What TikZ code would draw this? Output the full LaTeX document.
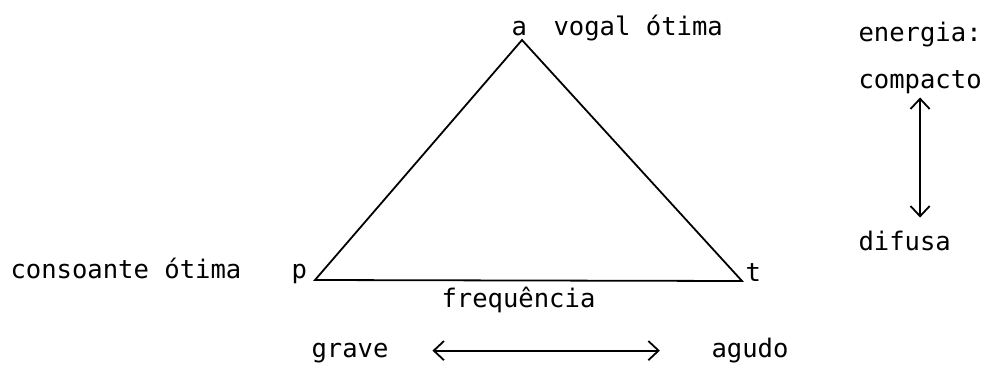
\documentclass[tikz,border=0pt]{standalone}
\usepackage{fontspec}
\setmonofont{DejaVu Sans Mono}
\usetikzlibrary{arrows.meta}

\begin{document}
\begin{tikzpicture}[x=0.01375cm, y=-0.01375cm,
  lbl/.style={anchor=base west, inner sep=0pt, text height=7pt, text depth=2pt,
    font=\ttfamily\fontsize{10}{12}\selectfont},
  >={Straight Barb[length=4pt,width=7.5pt]}]
\useasboundingbox (0,0) rectangle (989,367);
% vertices of the triangle
\coordinate (vA) at (522,40);
\coordinate (vP) at (315,280);
\coordinate (vT) at (742,281);
\node[lbl] (a) at (511,35) {a};
\node[lbl] (vogal) at (553,35) {vogal ótima};
\node[lbl] (p) at (291,278) {p};
\node[lbl] (consoante) at (10,278) {consoante ótima};
\node[lbl] (t) at (745,281) {t};
\node[lbl] (freq) at (441,307) {frequência};
\node[lbl] (grave) at (311,357) {grave};
\node[lbl] (agudo) at (711,357) {agudo};
\node[lbl] (energia) at (858,41) {energia:};
\node[lbl] (compacto) at (858,88) {compacto};
\node[lbl] (difusa) at (858,250) {difusa};
\draw[line width=0.7pt] (vA) -- (vP) -- (vT) -- cycle;
\draw[<->, line width=0.7pt, shorten <=17pt, shorten >=20pt] (grave.east) -- (agudo.west);
\draw[<->, line width=0.7pt, shorten <=1.5pt, shorten >=5.5pt] (compacto.south) -- (compacto.south |- difusa.north);
\end{tikzpicture}
\end{document}
